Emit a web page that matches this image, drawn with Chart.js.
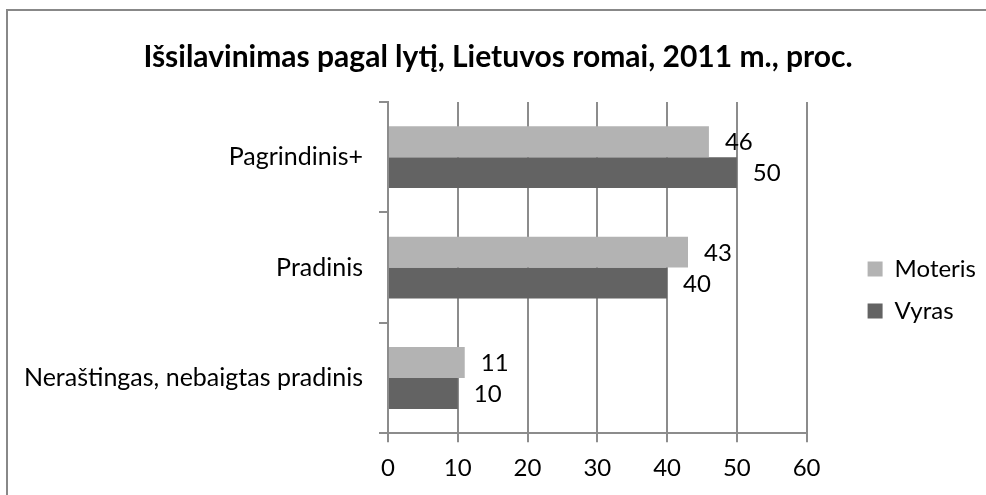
<!DOCTYPE html>
<html>
<head>
<meta charset="utf-8">
<script src="https://cdn.jsdelivr.net/npm/chart.js@4.4.1/dist/chart.umd.min.js"></script>
<style>
  html, body { margin: 0; padding: 0; background: #fff; overflow: hidden; }
  #wrap { position: relative; width: 986px; height: 495px; }
  #frame {
    position: absolute; left: 6px; top: 9px; width: 1000px; height: 520px;
    border-left: 2px solid #888; border-top: 2px solid #888;
  }
  canvas { position: absolute; left: 0; top: 0; }
</style>
</head>
<body>
<div id="wrap">
  <div id="frame"></div>
  <canvas id="chart" width="986" height="495"></canvas>
</div>
<script>
'use strict';

// ── Data ─────────────────────────────────────────────────────────
const categories = ['Pagrindinis+', 'Pradinis', 'Neraštingas, nebaigtas pradinis'];
const moteris    = [46, 43, 11];
const vyras      = [50, 40, 10];
const xTicks     = [0, 10, 20, 30, 40, 50, 60];

const FONT = 'Lato, "Open Sans", sans-serif';
const GRID = '#8c8c8c';

// ── Value labels next to the bar ends ────────────────────────────
const barLabels = {
    id: 'barLabels',
    afterDatasetsDraw(chart) {
        const ctx = chart.ctx;
        ctx.save();
        ctx.fillStyle = '#000';
        ctx.font = `24px ${FONT}`;
        ctx.textBaseline = 'middle';
        ctx.textAlign = 'left';
        chart.data.datasets.forEach((ds, i) => {
            chart.getDatasetMeta(i).data.forEach((bar, j) => {
                ctx.fillText(String(ds.data[j]), bar.x + 16, bar.y + 1);
            });
        });
        ctx.restore();
    }
};

new Chart(document.getElementById('chart'), {
    type: 'bar',
    data: {
        labels: categories,
        datasets: [
            { label: 'Moteris', data: moteris, backgroundColor: '#b3b3b3' },
            { label: 'Vyras',   data: vyras,   backgroundColor: '#636363' },
        ]
    },
    plugins: [barLabels],
    options: {
        indexAxis: 'y',
        responsive: false,
        animation: false,
        categoryPercentage: 0.56,
        barPercentage: 1,
        layout: { padding: { left: 10, right: 0, top: 20, bottom: 0 } },
        plugins: {
            title: {
                display: true,
                text: 'Išsilavinimas pagal lytį, Lietuvos romai, 2011 m., proc.',
                color: '#000',
                font: { family: FONT, size: 30, weight: 'bold' },
                padding: { top: 19, bottom: 27 }
            },
            legend: {
                position: 'right',
                title: { display: true, text: ' ', font: { size: 1 }, padding: 32 },
                labels: {
                    color: '#000',
                    font: { family: FONT, size: 24 },
                    boxWidth: 15,
                    boxHeight: 15,
                    padding: 18
                }
            },
            tooltip: { enabled: false }
        },
        scales: {
            x: {
                min: 0,
                max: 60,
                afterBuildTicks: axis => { axis.ticks = xTicks.map(v => ({ value: v })); },
                grid: { color: GRID, lineWidth: 2, tickLength: 9 },
                border: { color: GRID, width: 2 },
                ticks: { color: '#000', font: { family: FONT, size: 24 }, padding: 12 }
            },
            y: {
                afterFit: axis => { axis.width = 378; },
                grid: { color: GRID, lineWidth: 2, drawOnChartArea: false, tickLength: 9 },
                border: { color: GRID, width: 2 },
                ticks: { color: '#000', font: { family: FONT, size: 25 }, padding: 16 }
            },
            // empty spacer between the plot and the legend
            gap: {
                type: 'category',
                axis: 'y',
                position: 'right',
                afterFit: axis => { axis.width = 43; },
                grid: { display: false },
                border: { display: false },
                ticks: { display: false }
            }
        }
    }
});
</script>
</body>
</html>
